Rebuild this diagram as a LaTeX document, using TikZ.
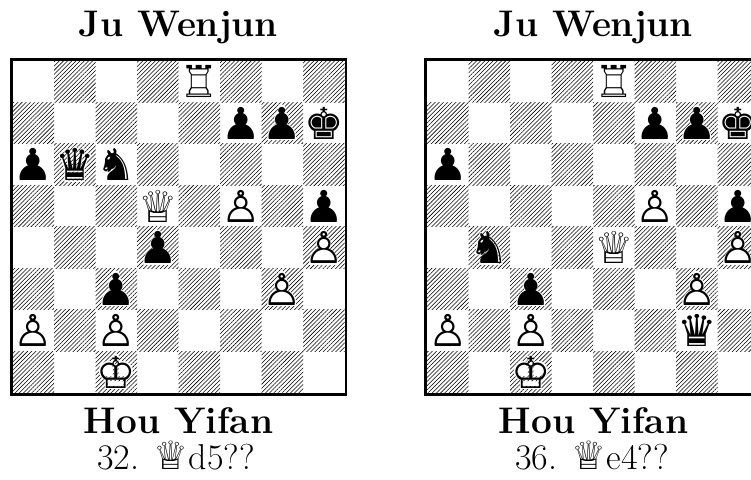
\documentclass[tikz,border=0pt]{standalone}
\usepackage{fontspec}
\usetikzlibrary{patterns.meta}
\newfontfamily\chessfont{DejaVu Sans}
\begin{document}
\begin{tikzpicture}[x=1pt,y=1pt,
  darksq/.style={pattern={Lines[angle=45,distance=2.95pt,line width=0.55pt]},pattern color=black},
  piece/.style={inner sep=0pt,outer sep=0pt,font=\chessfont\fontsize{44}{44}\selectfont},
  halo/.style={piece,text=white,scale=1.1},
  frame/.style={line width=2.7pt,draw=black},
  title/.style={font=\fontsize{37}{44}\selectfont\bfseries,anchor=base},
  move/.style={font=\fontsize{36}{44}\selectfont,anchor=base}]
\useasboundingbox (0,0) rectangle (751,479);
\clip (0,0) rectangle (751,479);
\def\s{41.5}
% dark squares
\foreach \bx/\bn in {12.5/L,427/R}{
  \foreach \f in {1,...,8}{
    \foreach \r in {1,...,8}{
      \pgfmathtruncatemacro{\prt}{mod(\f+\r,2)}
      \ifnum\prt=0
        \path[darksq] ({\bx+(\f-1)*\s},{86+(\r-1)*\s}) rectangle ++(\s,\s);
      \fi
    }
  }
  \draw[frame] (\bx-1.35,86-1.35) rectangle (\bx+8*\s+1.35,86+8*\s+1.35);
}
% pieces: board x, file, rank, glyph, silhouette
\foreach \bx/\f/\r/\g/\h in {
  12.5/5/8/♖/♜, 12.5/6/7/♟/♟, 12.5/7/7/♟/♟, 12.5/8/7/♚/♚,
  12.5/1/6/♟/♟, 12.5/2/6/♛/♛, 12.5/3/6/♞/♞,
  12.5/4/5/♕/♛, 12.5/6/5/♙/♟, 12.5/8/5/♟/♟,
  12.5/4/4/♟/♟, 12.5/8/4/♙/♟,
  12.5/3/3/♟/♟, 12.5/7/3/♙/♟,
  12.5/1/2/♙/♟, 12.5/3/2/♙/♟,
  12.5/3/1/♔/♚,
  427/5/8/♖/♜, 427/6/7/♟/♟, 427/7/7/♟/♟, 427/8/7/♚/♚,
  427/1/6/♟/♟,
  427/6/5/♙/♟, 427/8/5/♟/♟,
  427/2/4/♞/♞, 427/5/4/♕/♛, 427/8/4/♙/♟,
  427/3/3/♟/♟, 427/7/3/♙/♟,
  427/1/2/♙/♟, 427/3/2/♙/♟, 427/7/2/♛/♛,
  427/3/1/♔/♚}{
  \pgfmathtruncatemacro{\prt}{mod(\f+\r,2)}
  \ifnum\prt=0
    \node[halo] (H-\bx-\f-\r) at ({\bx+(\f-0.5)*\s},{86+(\r-0.5)*\s}) {\h};
  \fi
  \node[piece] (P-\bx-\f-\r) at ({\bx+(\f-0.5)*\s},{86+(\r-0.5)*\s}) {\g};
}
\node[title] (topL) at (178.5,442) {Ju Wenjun};
\node[title] (topR) at (593.5,442) {Ju Wenjun};
\node[title] (botL) at (178.5,46) {Hou Yifan};
\node[title] (botR) at (593.5,46) {Hou Yifan};
\node[move] (mvL) at (176,9.5) {32. {\chessfont\fontsize{39}{39}\selectfont ♕}d5??};
\node[move] (mvR) at (592,9.5) {36. {\chessfont\fontsize{39}{39}\selectfont ♕}e4??};
\end{tikzpicture}
\end{document}
